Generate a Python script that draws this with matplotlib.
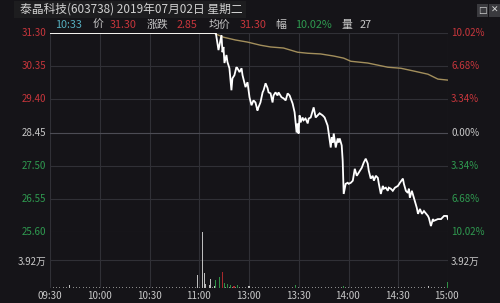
import matplotlib
matplotlib.use("Agg")
import matplotlib.pyplot as plt
from matplotlib.patches import Rectangle

plt.rcParams['font.family'] = ['Noto Sans CJK SC', 'DejaVu Sans']

BG = '#151418'
GRID = '#303036'
RED = '#c8363c'
GREEN = '#2f9a50'
GREY = '#c8c8c8'

# price axis (left) and percent axis (right)
price_ticks = [31.30, 30.35, 29.40, 28.45, 27.50, 26.55, 25.60]
pct_labels = ['10.02%', '6.68%', '3.34%', '0.00%', '3.34%', '6.68%', '10.02%']
time_labels = ['09:30', '10:00', '10:30', '11:00', '13:00', '13:30', '14:00', '14:30', '15:00']

# minute index from 09:30 (0..240), price
price_min = [0, 100, 101.6, 103.4, 104.0, 104.6, 105.2, 106.4, 107.0, 108.2, 109.4, 110.0,
             111.2, 112.4, 113.0, 114.3, 115.5, 116.1, 117.9, 119.1, 120.3, 121.5, 122.7,
             123.9, 125.1, 125.7, 126.9, 128.2, 128.8, 130.0, 131.2, 131.8, 133.0, 134.2,
             134.8, 136.0, 137.2, 137.8, 139.6, 140.8, 142.1, 143.3, 144.5, 146.3, 147.5,
             148.7, 149.3, 149.9, 150.5, 151.1, 152.3, 152.9, 154.1, 155.4, 156.0, 157.2,
             159.0, 160.2, 161.4, 162.6, 164.4, 165.6, 167.4, 168.1, 169.3, 169.9, 170.5,
             171.1, 172.3, 173.5, 174.1, 174.7, 175.9, 176.5, 177.1, 178.3, 179.5, 180.1,
             181.4, 182.6, 183.8, 185.0, 186.2, 188.0, 189.2, 190.4, 191.6, 192.2, 193.4,
             194.6, 195.3, 196.5, 197.7, 198.3, 199.5, 200.7, 201.3, 202.5, 203.7, 204.3,
             205.5, 206.7, 208.0, 209.8, 211.0, 212.8, 213.4, 214.6, 215.8, 216.4, 217.0,
             218.2, 219.4, 220.0, 221.2, 221.9, 223.1, 224.3, 225.5, 227.9, 228.5, 229.7,
             230.9, 231.5, 233.9, 235.8, 237.6, 239.4, 240.0]
price_val = [31.30, 31.30, 30.81, 31.24, 30.75, 30.90, 30.44, 30.67, 30.47, 30.29, 29.66, 30.00,
             30.09, 30.32, 30.29, 30.18, 30.29, 30.09, 29.75, 29.89, 29.46, 29.23, 29.37,
             29.31, 29.08, 29.17, 29.31, 29.60, 29.66, 29.86, 29.72, 29.60, 29.57, 29.31,
             29.51, 29.60, 29.51, 29.60, 29.46, 29.43, 29.37, 29.57, 29.51, 29.28, 29.03,
             28.45, 28.71, 28.42, 28.94, 28.74, 28.88, 28.80, 28.85, 28.71, 28.85, 28.88,
             29.17, 28.88, 28.94, 29.00, 28.94, 28.88, 28.65, 28.42, 28.02, 28.31, 28.16,
             28.42, 28.02, 28.28, 28.16, 28.28, 28.08, 27.64, 26.69, 26.98, 27.01, 26.98,
             27.01, 27.07, 27.41, 27.21, 27.30, 27.44, 27.59, 27.70, 27.56, 27.36, 27.13,
             27.21, 27.07, 27.21, 27.15, 26.98, 26.69, 26.92, 26.84, 26.87, 26.78, 26.87,
             26.84, 26.78, 26.87, 26.92, 27.01, 27.13, 26.98, 26.78, 26.72, 26.84, 26.58,
             26.78, 26.58, 26.49, 26.29, 26.12, 26.26, 26.12, 26.20, 26.06, 26.00, 25.77,
             25.97, 25.92, 25.97, 25.97, 26.06, 26.06, 25.97]

avg_min = [0, 98.5, 104.6, 111.8, 119.1, 126.9, 133.0, 140.8, 149.3, 155.4, 163.2, 171.1,
           177.1, 181.4, 191.6, 203.7, 211.6, 219.4, 227.9, 233.9, 240.0]
avg_val = [31.30, 31.30, 31.18, 31.10, 31.04, 30.95, 30.90, 30.87, 30.75, 30.72, 30.70, 30.64,
           30.58, 30.49, 30.44, 30.32, 30.29, 30.21, 30.12, 29.98, 29.95]

# volume in 万 shares
vol_min = [12, 89, 92, 93, 94, 96, 97, 99, 100, 102, 104, 105, 107, 109, 111, 113, 120,
           148, 177, 228, 240]
vol_val = [0.40, 1.80, 7.80, 2.10, 0.60, 0.40, 1.30, 0.30, 1.10, 1.50, 2.20, 0.70, 0.50,
           0.40, 0.30, 0.40, 0.30, 0.40, 0.30, 0.25, 0.80]
vol_col = ['w', 'w', 'w', 'w', 'w', 'w', 'w', 'w', 'g', 'g', 'r', 'g', 'g', 'g', 'r', 'g',
           'w', 'g', 'g', 'w', 'g']
base_vol = [0.12, 0.10, 0.15, 0.11, 0.13, 0.10, 0.14, 0.12, 0.11, 0.16, 0.12, 0.10, 0.13,
            0.11, 0.15, 0.12, 0.10, 0.14, 0.11, 0.13, 0.12, 0.10, 0.15, 0.11, 0.12, 0.14,
            0.10, 0.13, 0.12, 0.11, 0.15, 0.12, 0.10, 0.13, 0.11, 0.14, 0.12, 0.10, 0.13,
            0.12, 0.11, 0.14, 0.10, 0.12, 0.13, 0.11, 0.12, 0.10, 0.14, 0.12, 0.11, 0.13,
            0.10, 0.12, 0.14, 0.11, 0.12, 0.10, 0.13, 0.12, 0.11, 0.14, 0.10, 0.12, 0.13,
            0.11, 0.12, 0.10, 0.14, 0.12, 0.11, 0.13, 0.10, 0.12, 0.14, 0.11, 0.12, 0.10,
            0.13, 0.12, 0.11, 0.14, 0.10, 0.12, 0.13, 0.11, 0.12, 0.10, 0.14, 0.12, 0.11,
            0.13, 0.10, 0.12, 0.14, 0.11, 0.12, 0.10, 0.13, 0.12, 0.11, 0.14, 0.10, 0.12,
            0.13, 0.11, 0.12, 0.10, 0.14, 0.12, 0.11, 0.13, 0.10, 0.12, 0.14, 0.11, 0.12,
            0.10, 0.13, 0.12, 0.11]

W, H = 500, 303
fig = plt.figure(figsize=(W / 100, H / 100), dpi=100, facecolor=BG)


def box(x0, y0, x1, y1):
    # pixel box (top-left origin) -> figure fraction rect
    return [x0 / W, 1 - y1 / H, (x1 - x0) / W, (y1 - y0) / H]


ax = fig.add_axes(box(50, 33, 448, 232))
axv = fig.add_axes(box(50, 232, 448, 288))

for a in (ax, axv):
    a.set_facecolor(BG)
    a.set_xlim(0, 240)
    for s in a.spines.values():
        s.set_visible(False)
    a.tick_params(left=False, bottom=False, labelleft=False, labelbottom=False)
    for k in range(len(time_labels)):
        a.axvline(k * 30, color=GRID, lw=0.8, zorder=0)

ax.set_ylim(price_ticks[-1], price_ticks[0])
for i, p in enumerate(price_ticks):
    ax.axhline(p, color='#4c4c54' if i == 3 else GRID, lw=0.8, zorder=0)

axv.set_ylim(0, 7.84)
axv.axhline(3.92, color=GRID, lw=0.8, zorder=0)
axv.axhline(0, color=GRID, lw=0.8, zorder=0)

ax.plot(avg_min, avg_val, color='#a38f5c', lw=1.0, zorder=2)
ax.plot(price_min, price_val, color='white', lw=1.3, zorder=3, solid_joinstyle='miter')

cmap = {'w': '#bdbdbd', 'g': '#2f8f45', 'r': '#a8282c'}
axv.bar(range(0, 241, 2), base_vol, width=0.6, color='#8a8a8a', zorder=2)
axv.bar(vol_min, vol_val, width=0.7, color=[cmap[c] for c in vol_col], zorder=3)

# axis labels
fs = 7
for i, p in enumerate(price_ticks):
    y = 1 - (33 + i * 33.17) / H
    c = RED if i < 3 else (GREY if i == 3 else GREEN)
    fig.text(46 / W, y, '%.2f' % p, color=c, fontsize=fs, ha='right', va='center')
    fig.text(451 / W, y, pct_labels[i], color=c, fontsize=fs, ha='left', va='center')

fig.text(46 / W, 1 - 262 / H, '3.92万', color=GREY, fontsize=fs, ha='right', va='center')
fig.text(451 / W, 1 - 262 / H, '3.92万', color=GREY, fontsize=fs, ha='left', va='center')

for k, t in enumerate(time_labels):
    fig.text((50 + k * 49.6) / W, 1 - 296 / H, t, color=GREY, fontsize=fs,
             ha='center', va='center')

# title bar
fig.patches.append(Rectangle((14 / W, 1 - 18 / H), 232 / W, 17 / H, transform=fig.transFigure,
                             facecolor='#1d1d1f', edgecolor='none'))
fig.text(20 / W, 1 - 9 / H, '泰晶科技(603738) 2019年07月02日 星期二', color='#d0d0d0',
         fontsize=8.5, ha='left', va='center')

# info row
info = [(55, '10:33', '#56aebf'), (93, '价', GREY), (110, '31.30', RED), (147, '涨跌', GREY),
        (177, '2.85', RED), (209, '均价', GREY), (240, '31.30', RED), (275, '幅', GREY),
        (295, '10.02%', GREEN), (342, '量', GREY), (360, '27', GREY)]
for x, s, c in info:
    fig.text(x / W, 1 - 25 / H, s, color=c, fontsize=7.8, ha='left', va='center')

# window buttons
for x0, s in [(477, '□'), (489, '✕')]:
    fig.patches.append(Rectangle((x0 / W, 1 - 17 / H), 11 / W, 13 / H,
                                 transform=fig.transFigure, facecolor='#3a3a3e',
                                 edgecolor='none'))
    fig.text((x0 + 5.5) / W, 1 - 10.5 / H, s, color='#d8d8d8', fontsize=6.5,
             ha='center', va='center', family=['DejaVu Sans'])

fig.savefig('out.png', dpi=100, facecolor=BG)
